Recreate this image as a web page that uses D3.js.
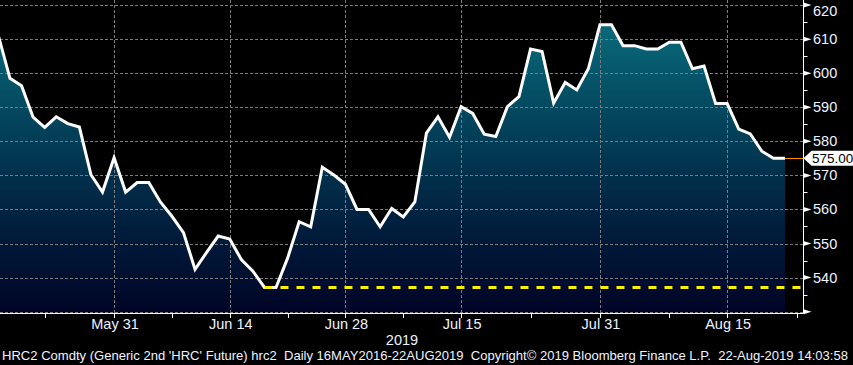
<!DOCTYPE html>
<html>
<head>
<meta charset="utf-8">
<script src="https://cdn.jsdelivr.net/npm/d3@7"></script>
<style>
  html, body { margin: 0; padding: 0; background: #000; }
  svg { display: block; }
  text { font-family: "Liberation Sans Narrow", "Arial Narrow", "Liberation Sans", Arial, sans-serif; }
</style>
</head>
<body>
<svg id="chart" width="853" height="365"></svg>
<script>
// ---------- DATA ----------
const dates = [
  "2019-05-16","2019-05-17","2019-05-20","2019-05-21","2019-05-22","2019-05-23","2019-05-24",
  "2019-05-28","2019-05-29","2019-05-30","2019-05-31",
  "2019-06-03","2019-06-04","2019-06-05","2019-06-06","2019-06-07",
  "2019-06-10","2019-06-11","2019-06-12","2019-06-13","2019-06-14",
  "2019-06-17","2019-06-18","2019-06-19","2019-06-20","2019-06-21",
  "2019-06-24","2019-06-25","2019-06-26","2019-06-27","2019-06-28",
  "2019-07-01","2019-07-02","2019-07-03","2019-07-05",
  "2019-07-08","2019-07-09","2019-07-10","2019-07-11","2019-07-12",
  "2019-07-15","2019-07-16","2019-07-17","2019-07-18","2019-07-19",
  "2019-07-22","2019-07-23","2019-07-24","2019-07-25","2019-07-26",
  "2019-07-29","2019-07-30","2019-07-31","2019-08-01","2019-08-02",
  "2019-08-05","2019-08-06","2019-08-07","2019-08-08","2019-08-09",
  "2019-08-12","2019-08-13","2019-08-14","2019-08-15","2019-08-16",
  "2019-08-19","2019-08-20","2019-08-21","2019-08-22"
];
const prices = [
  611.0, 598.5, 596.3, 587.1, 584.1, 587.2, 585.2,
  584.2, 570.2, 565.1, 575.2,
  565.1, 567.9, 567.9, 562.2, 558.0,
  553.2, 542.4, 547.4, 552.2, 551.3,
  545.3, 541.9, 537.1, 537.1, 545.7,
  556.4, 554.9, 572.4, 570.1, 567.4,
  560.0, 560.0, 554.9, 560.3,
  557.8, 562.2, 582.4, 587.2, 581.2,
  590.2, 588.2, 582.1, 581.4, 590.2,
  593.1, 607.1, 606.4, 591.2, 597.3,
  595.1, 601.3, 614.2, 614.2, 608.1,
  608.1, 607.1, 607.1, 609.1, 609.1,
  601.3, 602.1, 591.1, 591.1, 583.6,
  582.2, 577.1, 575.0, 575.0
];
const lastPrice = 575.00;
const lowPrice = 537.1;           // yellow dashed support line level
const lowDate = "2019-06-19";     // where the support line starts
const majorTickDates = ["2019-05-31","2019-06-14","2019-06-28","2019-07-15","2019-07-31","2019-08-15"];
const majorTickLabels = ["May 31","Jun 14","Jun 28","Jul 15","Jul 31","Aug 15"];
const minorTickDates = ["2019-05-22","2019-06-07","2019-06-21","2019-07-08","2019-07-23","2019-08-08","2019-08-23"];
const yearLabel = "2019";
const yMajorTicks = [530,540,550,560,570,580,590,600,610,620];
const yLabelTicks = [540,550,560,570,580,590,600,610,620];
const yMinorTicks = [535,545,555,565,575,585,595,605,615];
const footer = "HRC2 Comdty (Generic 2nd 'HRC' Future) hrc2  Daily 16MAY2016-22AUG2019  Copyright\u00A9 2019 Bloomberg Finance L.P.  22-Aug-2019 14:03:58";

// ---------- LAYOUT ----------
const W = 853, H = 365;
const plotRight = 803.5, plotBottom = 313.5;
const svg = d3.select("#chart");
svg.append("rect").attr("width", W).attr("height", H).attr("fill", "#000");

// index of a date in trading calendar (extrapolate weekdays past the end)
function idx(ds) {
  const i = dates.indexOf(ds);
  if (i >= 0) return i;
  const last = new Date(dates[dates.length - 1] + "T00:00:00Z");
  const target = new Date(ds + "T00:00:00Z");
  let n = dates.length - 1, d = new Date(last);
  while (d < target) { d.setUTCDate(d.getUTCDate() + 1); const wd = d.getUTCDay(); if (wd !== 0 && wd !== 6) n++; }
  return n;
}

const x = d3.scaleLinear().domain([0, dates.length - 1]).range([-1.6, 785]);
const y = d3.scaleLinear().domain([529.6, 621.5]).range([313, 0]);

const defs = svg.append("defs");
defs.append("clipPath").attr("id", "plotclip")
  .append("rect").attr("x", 0).attr("y", 0).attr("width", plotRight).attr("height", plotBottom);
const grad = defs.append("linearGradient").attr("id", "areagrad")
  .attr("gradientUnits", "userSpaceOnUse").attr("x1", 0).attr("y1", 0).attr("x2", 0).attr("y2", plotBottom);
grad.append("stop").attr("offset", "0%").attr("stop-color", "#0a7482");
grad.append("stop").attr("offset", "35%").attr("stop-color", "#04485f");
grad.append("stop").attr("offset", "70%").attr("stop-color", "#01203f");
grad.append("stop").attr("offset", "100%").attr("stop-color", "#000426");

const plot = svg.append("g").attr("clip-path", "url(#plotclip)");

// area
const area = d3.area().x((d, i) => x(i)).y0(plotBottom).y1(d => y(d));
plot.append("path").datum(prices).attr("d", area).attr("fill", "url(#areagrad)");

// gridlines
plot.selectAll("line.hgrid").data(yMajorTicks).join("line")
  .attr("class", "hgrid")
  .attr("x1", 0).attr("x2", plotRight)
  .attr("y1", d => Math.round(y(d)) + 0.5).attr("y2", d => Math.round(y(d)) + 0.5)
  .attr("stroke", "#7c7c7c").attr("stroke-width", 1).attr("stroke-dasharray", "3,2");
plot.selectAll("line.vgrid").data(majorTickDates).join("line")
  .attr("class", "vgrid")
  .attr("x1", d => Math.round(x(idx(d))) + 0.5).attr("x2", d => Math.round(x(idx(d))) + 0.5)
  .attr("y1", 0).attr("y2", plotBottom)
  .attr("stroke", "#7c7c7c").attr("stroke-width", 1).attr("stroke-dasharray", "3,2");

// price line
const line = d3.line().x((d, i) => x(i)).y(d => y(d));
plot.append("path").datum(prices).attr("d", line)
  .attr("fill", "none").attr("stroke", "#ffffff").attr("stroke-width", 3).attr("stroke-linejoin", "miter");

// yellow dashed support line
plot.append("line")
  .attr("x1", x(idx(lowDate))).attr("x2", plotRight)
  .attr("y1", y(lowPrice)).attr("y2", y(lowPrice))
  .attr("stroke", "#ffee00").attr("stroke-width", 3).attr("stroke-dasharray", "8,8");

// x axis
const axisColor = "#ffffff";
const textColor = "#eef3ff";
svg.append("line").attr("x1", 0).attr("x2", plotRight).attr("y1", plotBottom).attr("y2", plotBottom)
  .attr("stroke", axisColor).attr("stroke-width", 1);
const allXTicks = majorTickDates.concat(minorTickDates);
svg.selectAll("line.xtick").data(allXTicks).join("line")
  .attr("class", "xtick")
  .attr("x1", d => Math.round(x(idx(d))) + 0.5).attr("x2", d => Math.round(x(idx(d))) + 0.5)
  .attr("y1", plotBottom).attr("y2", plotBottom + 4.5)
  .attr("stroke", axisColor).attr("stroke-width", 1);
svg.selectAll("text.xlab").data(majorTickDates).join("text")
  .attr("class", "xlab")
  .attr("x", d => x(idx(d)) + 1).attr("y", 328.5)
  .attr("text-anchor", "middle").attr("fill", textColor).attr("font-size", 14.5)
  .text((d, i) => majorTickLabels[i]);
svg.append("text").attr("x", 402).attr("y", 345)
  .attr("text-anchor", "middle").attr("fill", textColor).attr("font-size", 14.5).text(yearLabel);

// y axis
svg.append("line").attr("x1", plotRight).attr("x2", plotRight).attr("y1", 0).attr("y2", plotBottom)
  .attr("stroke", axisColor).attr("stroke-width", 1);
svg.selectAll("path.ytri").data(yMajorTicks).join("path")
  .attr("class", "ytri")
  .attr("d", d => { const yy = y(d); return `M${plotRight},${yy - 2.5}L${plotRight + 8},${yy}L${plotRight},${yy + 2.5}Z`; })
  .attr("fill", axisColor);
svg.selectAll("line.yminor").data(yMinorTicks).join("line")
  .attr("class", "yminor")
  .attr("x1", plotRight).attr("x2", plotRight + 4)
  .attr("y1", d => Math.round(y(d)) + 0.5).attr("y2", d => Math.round(y(d)) + 0.5)
  .attr("stroke", axisColor).attr("stroke-width", 1);
svg.selectAll("text.ylab").data(yLabelTicks).join("text")
  .attr("class", "ylab")
  .attr("x", 813).attr("y", d => Math.max(y(d) + 5, 15.5))
  .attr("fill", textColor).attr("font-size", 14.5)
  .text(d => d);

// last price marker
const ly = y(lastPrice);
svg.append("line").attr("x1", x(dates.length - 1)).attr("x2", plotRight)
  .attr("y1", Math.round(ly) + 0.5).attr("y2", Math.round(ly) + 0.5)
  .attr("stroke", "#ff8c00").attr("stroke-width", 1);
svg.append("path")
  .attr("d", `M${plotRight},${ly}L${plotRight + 8},${ly - 7.5}L${W},${ly - 7.5}L${W},${ly + 7.5}L${plotRight + 8},${ly + 7.5}Z`)
  .attr("fill", "#ffffff");
svg.append("text").attr("x", 812).attr("y", ly + 5)
  .attr("fill", "#000000").attr("font-size", 13.5).text(lastPrice.toFixed(2));

// footer
svg.append("text").attr("x", 2).attr("y", 360)
  .attr("fill", textColor).attr("font-size", 13)
  .attr("textLength", 846).attr("lengthAdjust", "spacingAndGlyphs")
  .style("white-space", "pre")
  .text(footer);
</script>
</body>
</html>
